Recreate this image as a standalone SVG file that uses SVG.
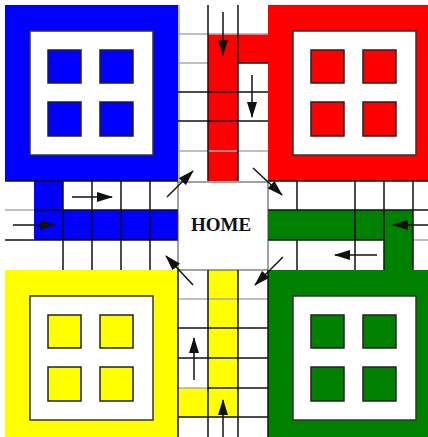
<svg xmlns="http://www.w3.org/2000/svg" width="428" height="437" viewBox="0 0 428 437">
<style>
.g{stroke:#111;stroke-width:1.5;fill:none}
.l{stroke:#aaa;stroke-width:1.5;fill:none}
.inner{fill:#fff;stroke:#333;stroke-width:1.5}
.pawn{stroke:#222;stroke-width:1.5}
.arr{stroke:#111;stroke-width:1.5;fill:none;marker-end:url(#ah)}
</style>
<defs>
<marker id="ah" markerUnits="userSpaceOnUse" markerWidth="16" markerHeight="10" refX="15" refY="5" orient="auto">
<path d="M0,0 L16,5 L0,10 z" fill="#111"/>
</marker>
</defs>
<rect width="428" height="437" fill="#fff"/>

<g id="blue-yard">
<rect x="5" y="5" width="173" height="176" fill="#0000ff"/>
<rect class="inner" x="30" y="31" width="123" height="124"/>
<rect class="pawn" x="48" y="50" width="33" height="33" fill="#0000ff"/>
<rect class="pawn" x="100" y="50" width="33" height="33" fill="#0000ff"/>
<rect class="pawn" x="48" y="102" width="33" height="34" fill="#0000ff"/>
<rect class="pawn" x="100" y="102" width="33" height="34" fill="#0000ff"/>
</g>
<g id="red-yard">
<rect x="268" y="5" width="174" height="176" fill="#ff0000"/>
<rect class="inner" x="293" y="31" width="123" height="124"/>
<rect class="pawn" x="311" y="50" width="33" height="33" fill="#ff0000"/>
<rect class="pawn" x="363" y="50" width="33" height="33" fill="#ff0000"/>
<rect class="pawn" x="311" y="102" width="33" height="34" fill="#ff0000"/>
<rect class="pawn" x="363" y="102" width="33" height="34" fill="#ff0000"/>
</g>
<g id="yellow-yard">
<rect x="5" y="270" width="173" height="176" fill="#ffff00"/>
<rect class="inner" x="30" y="296" width="123" height="124"/>
<rect class="pawn" x="48" y="315" width="33" height="33" fill="#ffff00"/>
<rect class="pawn" x="100" y="315" width="33" height="33" fill="#ffff00"/>
<rect class="pawn" x="48" y="367" width="33" height="34" fill="#ffff00"/>
<rect class="pawn" x="100" y="367" width="33" height="34" fill="#ffff00"/>
</g>
<g id="green-yard">
<rect x="268" y="270" width="174" height="176" fill="#008000"/>
<rect class="inner" x="293" y="296" width="123" height="124"/>
<rect class="pawn" x="311" y="315" width="33" height="33" fill="#008000"/>
<rect class="pawn" x="363" y="315" width="33" height="33" fill="#008000"/>
<rect class="pawn" x="311" y="367" width="33" height="34" fill="#008000"/>
<rect class="pawn" x="363" y="367" width="33" height="34" fill="#008000"/>
</g>

<g id="top-arm">
<rect x="208" y="34" width="30" height="147" fill="#ff0000"/>
<rect x="238" y="34" width="30" height="29" fill="#ff0000"/>
<path class="l" d="M178,34H268M178,63H208M178,151H268M179,5V181"/>
<path class="g" d="M238,63H268M178,92H268M178,121H268M208,5V181M238,5V181"/>
</g>
<g id="left-arm">
<rect x="34" y="181" width="29" height="29" fill="#0000ff"/>
<rect x="34" y="210" width="144" height="30" fill="#0000ff"/>
<path class="l" d="M5,210H34"/>
<path class="g" d="M5,181H178M34,210H178M5,240H178M63,181V270M92,181V270M121,181V270M150,181V270"/>
</g>
<g id="right-arm">
<rect x="268" y="210" width="145" height="30" fill="#008000"/>
<rect x="384" y="240" width="29" height="30" fill="#008000"/>
<path class="l" d="M413,240H428"/>
<path class="g" d="M268,181H428M268,210H428M268,240H384M297,181V210M297,240V270M355,181V270M384,181V270M413,181V270"/>
</g>
<g id="bottom-arm">
<rect x="208" y="270" width="30" height="147" fill="#ffff00"/>
<rect x="178" y="388" width="30" height="29" fill="#ffff00"/>
<path class="l" d="M178,299H268M178,388H208"/>
<path class="g" d="M178,328H268M178,358H268M208,388H268M178,417H268M178,270V437M208,270V437M238,270V437M268,270V437"/>
</g>

<g id="home">
<rect x="178" y="182" width="90" height="88" fill="#fff" stroke="#444" stroke-width="1"/>
<text x="221" y="231" text-anchor="middle" font-family="'Liberation Serif', serif" font-weight="bold" font-size="19" fill="#111">HOME</text>
</g>

<g id="connectors">
<path class="arr" d="M223,12V55"/>
<path class="arr" d="M252,75V117"/>
<path class="arr" d="M72,197H112"/>
<path class="arr" d="M13,225H55"/>
<path class="arr" d="M428,225H393"/>
<path class="arr" d="M377,255H335"/>
<path class="arr" d="M194,380V338"/>
<path class="arr" d="M223,437V400"/>
<path class="arr" d="M167,197L193,171"/>
<path class="arr" d="M253,168L282,195"/>
<path class="arr" d="M283,257L255,285"/>
<path class="arr" d="M193,285L166,256"/>
</g>
</svg>
